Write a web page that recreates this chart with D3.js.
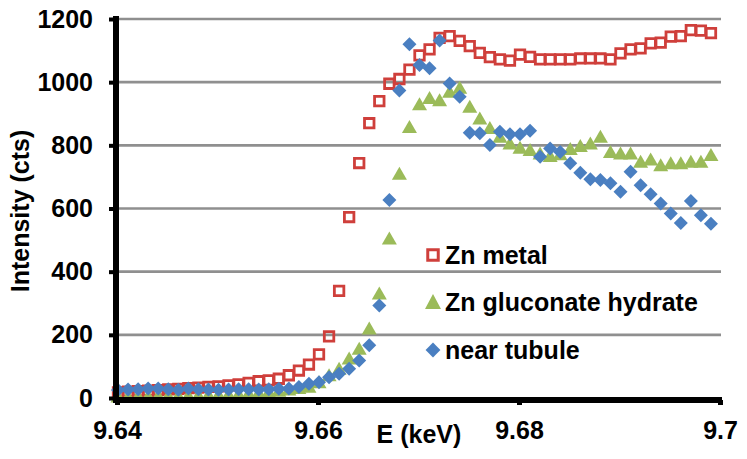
<!DOCTYPE html>
<html>
<head>
<meta charset="utf-8">
<script src="https://cdn.jsdelivr.net/npm/d3@7"></script>
<style>
  html, body { margin: 0; padding: 0; background: #fff; }
  svg { display: block; }
  text { font-family: "Liberation Sans", Arial, sans-serif; font-weight: bold; }
</style>
</head>
<body>
<svg id="chart" width="747" height="459"></svg>
<script>
// ---- data ----
const energy = [9.6401, 9.6411, 9.6421, 9.6431, 9.6441, 9.6451, 9.6461, 9.6471, 9.6481, 9.6491,
  9.6501, 9.6511, 9.6521, 9.6531, 9.6541, 9.6551, 9.6561, 9.6571, 9.6581, 9.6591,
  9.6601, 9.6611, 9.6621, 9.6631, 9.6641, 9.6651, 9.6661, 9.6671, 9.6681, 9.6691,
  9.6701, 9.6711, 9.6721, 9.6731, 9.6741, 9.6751, 9.6761, 9.6771, 9.6781, 9.6791,
  9.6801, 9.6811, 9.6821, 9.6831, 9.6841, 9.6851, 9.6861, 9.6871, 9.6881, 9.6891,
  9.6901, 9.6911, 9.6921, 9.6931, 9.6941, 9.6951, 9.6961, 9.6971, 9.6981, 9.6991];

const znMetal = [18, 20, 22, 23, 25, 27, 29, 31, 33, 35,
  37, 40, 43, 48, 53, 56, 61, 72, 87, 106,
  138, 195, 339, 573, 744, 870, 940, 995, 1010, 1040,
  1085, 1104, 1140, 1146, 1131, 1114, 1093, 1079, 1072, 1068,
  1087, 1080, 1072, 1072, 1072, 1072, 1075, 1075, 1075, 1072,
  1091, 1104, 1107, 1123, 1125, 1144, 1146, 1165, 1163, 1155];

const znGluconate = [5, 5, 6, 6, 7, 7, 8, 8, 9, 10,
  11, 12, 13, 15, 17, 20, 23, 27, 32, 36,
  50, 72, 93, 125, 156, 220, 331, 505, 710, 858,
  930, 950, 943, 970, 982, 922, 885, 855, 827, 806,
  792, 785, 774, 766, 772, 788, 798, 806, 827, 779,
  774, 774, 748, 755, 737, 743, 743, 748, 748, 769];

const nearTubule = [25, 27, 28, 30, 30, 28, 26, 30, 28, 27,
  26, 27, 28, 28, 27, 28, 29, 30, 35, 45,
  50, 66, 77, 93, 119, 167, 293, 627, 974, 1120,
  1054, 1044, 1132, 996, 954, 840, 838, 801, 843, 835,
  835, 846, 764, 790, 779, 743, 713, 693, 690, 680,
  653, 716, 674, 645, 616, 584, 554, 624, 579, 552];

const seriesNames = ["Zn metal", "Zn gluconate hydrate", "near tubule"];
const yTickValues = [0, 200, 400, 600, 800, 1000, 1200];
const yTickLabels = ["0", "200", "400", "600", "800", "1000", "1200"];
const xTickValues = [9.64, 9.66, 9.68, 9.70];
const xTickLabels = ["9.64", "9.66", "9.68", "9.7"];
const xTitle = "E (keV)";
const yTitle = "Intensity (cts)";

// ---- styles ----
const RED = "#cf3f3b", GREEN = "#9bbb59", BLUE = "#4a7fc1";
const FS = 25;

const svg = d3.select("#chart");
const x = d3.scaleLinear().domain([9.64, 9.70]).range([117, 720]);
const y = d3.scaleLinear().domain([0, 1200]).range([398, 19]);

// gridlines
svg.append("g").selectAll("line")
  .data(yTickValues.filter(v => v > 0))
  .join("line")
  .attr("x1", x(9.64)).attr("x2", x(9.70) + 1)
  .attr("y1", d => y(d)).attr("y2", d => y(d))
  .attr("stroke", "#8f8f8f").attr("stroke-width", 2.6);

// markers
const squarePath = d3.symbol(d3.symbolSquare, 90)();
const triPath = "M0,-7L7.5,6L-7.5,6Z";
const diamondPath = d3.symbol(d3.symbolSquare, 98)();

const pts = (vals) => energy.map((e, i) => ({ e, v: vals[i] }));

svg.append("g").selectAll("path")
  .data(pts(znMetal)).join("path")
  .attr("d", squarePath)
  .attr("transform", d => `translate(${x(d.e)},${y(d.v)})`)
  .attr("fill", "none").attr("stroke", RED).attr("stroke-width", 2.8);

svg.append("g").selectAll("path")
  .data(pts(znGluconate)).join("path")
  .attr("d", triPath)
  .attr("transform", d => `translate(${x(d.e)},${y(d.v)})`)
  .attr("fill", GREEN);

svg.append("g").selectAll("path")
  .data(pts(nearTubule)).join("path")
  .attr("d", diamondPath)
  .attr("transform", d => `translate(${x(d.e)},${y(d.v)}) rotate(45)`)
  .attr("fill", BLUE);

// axes
const yAxis = svg.append("g")
  .attr("transform", "translate(116,0)")
  .call(d3.axisLeft(y).tickValues(yTickValues).tickSize(7).tickSizeOuter(0).tickPadding(16)
    .tickFormat((d, i) => yTickLabels[i]));
yAxis.select(".domain").attr("stroke", "#000").attr("stroke-width", 6)
  .attr("d", `M0,${y(1200) - 3}V${y(0) + 5}`);
yAxis.selectAll(".tick line").attr("stroke", "#000").attr("stroke-width", 4);
yAxis.selectAll(".tick text").attr("font-size", FS).attr("fill", "#000")
  .attr("font-family", "Liberation Sans, Arial, sans-serif").attr("font-weight", "bold");

const xAxis = svg.append("g")
  .attr("transform", "translate(0,400)")
  .call(d3.axisBottom(x).tickValues(xTickValues).tickSize(5).tickSizeOuter(0).tickPadding(16)
    .tickFormat((d, i) => xTickLabels[i]));
xAxis.select(".domain").attr("stroke", "#000").attr("stroke-width", 6)
  .attr("d", `M${x(9.64) - 3},0H${x(9.70) + 2}`);
xAxis.selectAll(".tick line").attr("stroke", "#000").attr("stroke-width", 5);
xAxis.selectAll(".tick text").attr("font-size", FS).attr("fill", "#000")
  .attr("font-family", "Liberation Sans, Arial, sans-serif").attr("font-weight", "bold");

// titles
svg.append("text").attr("x", 419).attr("y", 443).attr("text-anchor", "middle")
  .attr("font-size", FS).attr("fill", "#000").text(xTitle);
svg.append("text").attr("transform", "translate(29,211) rotate(-90)").attr("text-anchor", "middle")
  .attr("font-size", FS).attr("fill", "#000").text(yTitle);

// legend
const legendY = [255, 302, 350];
const lg = svg.append("g");
lg.append("path").attr("d", d3.symbol(d3.symbolSquare, 110)())
  .attr("transform", `translate(433,${legendY[0]})`)
  .attr("fill", "none").attr("stroke", RED).attr("stroke-width", 3);
lg.append("path").attr("d", "M0,-8L8,7L-8,7Z")
  .attr("transform", `translate(433,${legendY[1]})`).attr("fill", GREEN);
lg.append("path").attr("d", d3.symbol(d3.symbolSquare, 110)())
  .attr("transform", `translate(433,${legendY[2]}) rotate(45)`).attr("fill", BLUE);
lg.selectAll("text").data(seriesNames).join("text")
  .attr("x", 445).attr("y", (d, i) => legendY[i] + 9)
  .attr("font-size", FS).attr("fill", "#000").text(d => d);
</script>
</body>
</html>
